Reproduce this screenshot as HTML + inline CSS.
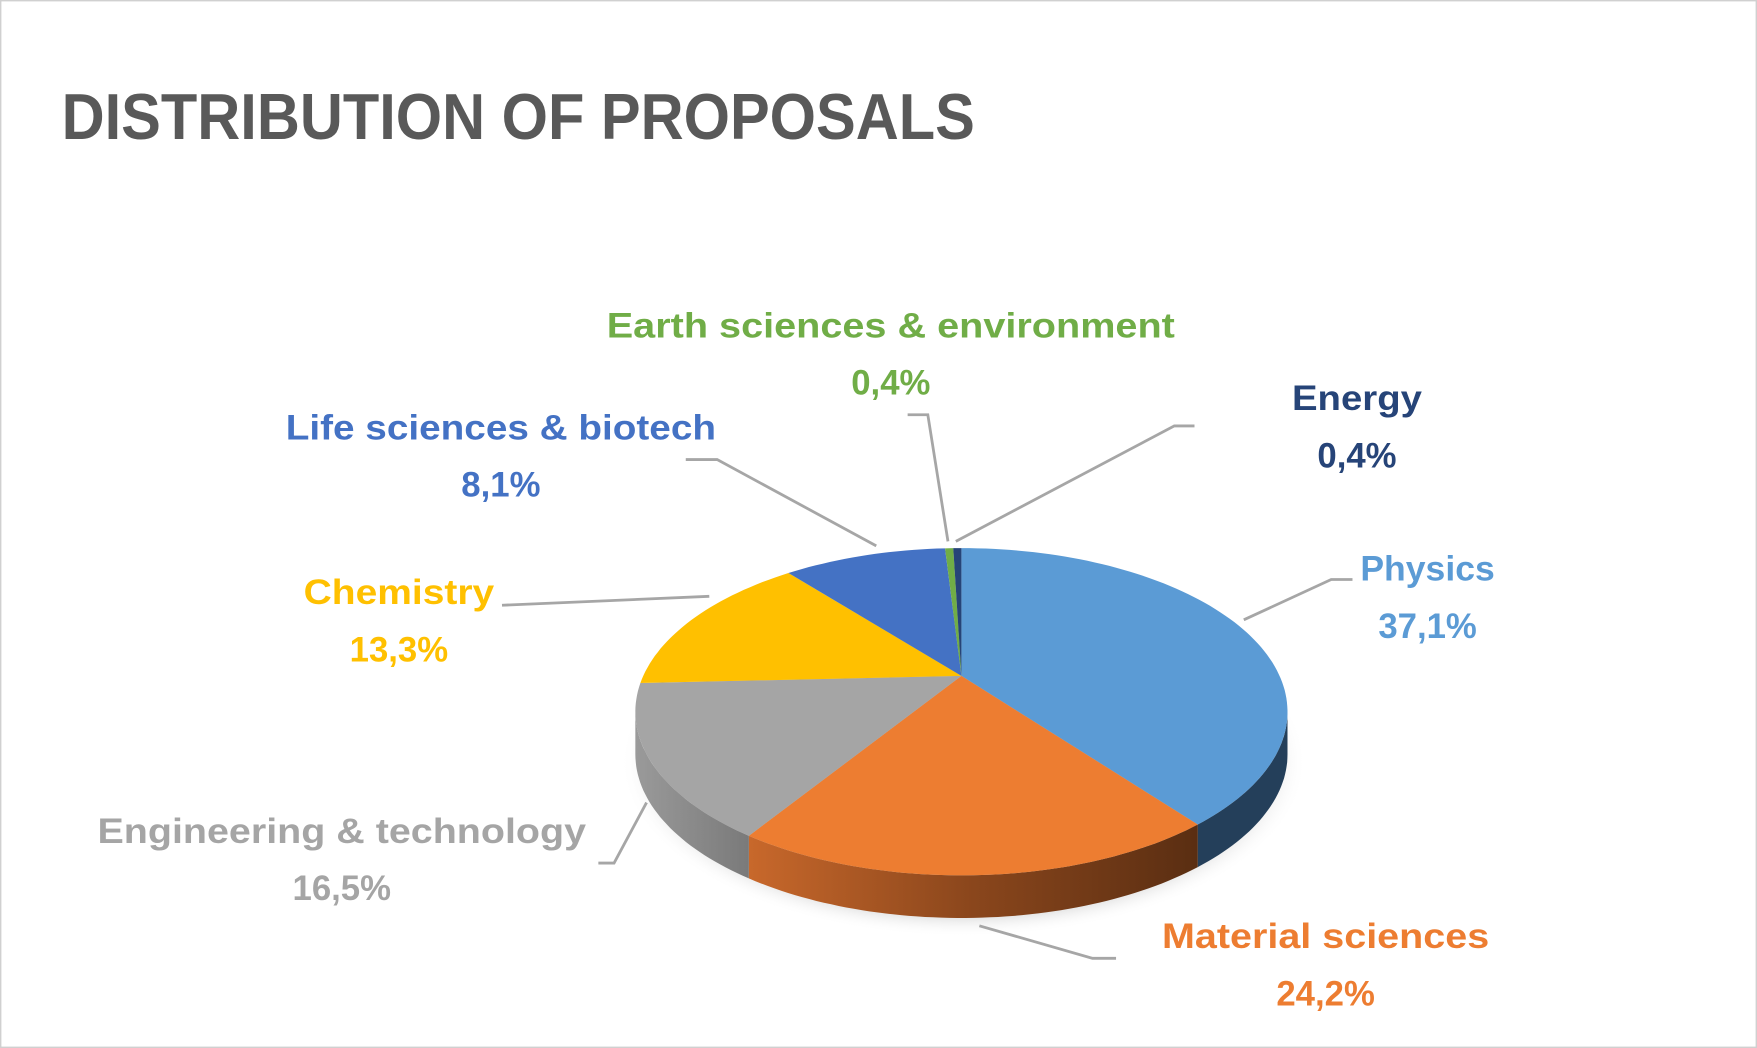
<!DOCTYPE html>
<html><head><meta charset="utf-8"><style>
html,body{margin:0;padding:0;background:#fff;}
svg{display:block;}
text{font-family:"Liberation Sans",sans-serif;font-weight:bold;}
</style></head><body>
<svg id="chart" width="1757" height="1048" viewBox="0 0 1568 935" preserveAspectRatio="none" xmlns="http://www.w3.org/2000/svg">
<defs>
<linearGradient id="gOrange" x1="0" x2="1" y1="0" y2="0">
<stop offset="0" stop-color="#c8682b"/><stop offset="0.5" stop-color="#8a461c"/><stop offset="1" stop-color="#5a2e12"/></linearGradient>
<linearGradient id="gGray" x1="0" x2="1"><stop offset="0" stop-color="#9a9a9a"/><stop offset="1" stop-color="#7a7a7a"/></linearGradient>
<radialGradient id="gShadow"><stop offset="0.85" stop-color="#d0d0d0"/><stop offset="1" stop-color="#fff" stop-opacity="0"/></radialGradient>
</defs>
<rect x="0.5" y="0.5" width="1567" height="934" fill="#fff" stroke="#d0d0d0" stroke-width="1.5"/>
<text x="55" y="124" font-size="58" fill="#595959" textLength="815" lengthAdjust="spacingAndGlyphs">DISTRIBUTION OF PROPOSALS</text>
<ellipse cx="860" cy="680" rx="306" ry="156" fill="url(#gShadow)"/>
<g id="sides"></g>
<g id="tops"></g>
<g id="leaders" stroke="#a6a6a6" stroke-width="2.5" fill="none">
<polyline points="612,410 640,410 782,487"/>
<polyline points="810,370 828,370 846,483"/>
<polyline points="1066,380 1048,380 853,483"/>
<polyline points="448,540 633,532"/>
<polyline points="1207,517 1188,517 1110,553"/>
<polyline points="534,770 548,770 577,716"/>
<polyline points="996,855 975,855 874,826"/>
</g>
<g id="labels"></g>
</svg>
<script>
const categories = ["Physics","Material sciences","Engineering & technology","Chemistry","Life sciences & biotech","Earth sciences & environment","Energy"];
const values = [37.1,24.2,16.5,13.3,8.1,0.4,0.4];
const valueLabels = ["37,1%","24,2%","16,5%","13,3%","8,1%","0,4%","0,4%"];
const colors = ["#5b9bd5","#ed7d31","#a5a5a5","#ffc000","#4472c4","#70ad47","#264478"];
const sideColors = ["#243f5a","url(#gOrange)","url(#gGray)","#b38600","#2f4f88","#4e7a32","#1a2f54"];
const labelPos = [[1274,518,120],[1183,846,292],[305,752,436],[356,539,170],[447,392,384],[795,301,507],[1211,366,116]];
const NS="http://www.w3.org/2000/svg";
const cx=858, cy=635, rx=291, ry=146, depth=38, vx=858, vy=603;
const total=values.reduce((a,b)=>a+b,0);
function pt(t,dy){return [cx+rx*Math.sin(t), cy-ry*Math.cos(t)+(dy||0)];}
const sides=document.getElementById('sides'), tops=document.getElementById('tops'), labels=document.getElementById('labels');
let a=0;
values.forEach((v,i)=>{
  const a0=a, a1=a+v/total*2*Math.PI; a=a1;
  // top wedge
  let d=`M${vx},${vy} `;
  const n=Math.max(2,Math.ceil((a1-a0)*40));
  for(let k=0;k<=n;k++){const p=pt(a0+(a1-a0)*k/n);d+=`L${p[0].toFixed(1)},${p[1].toFixed(1)} `;}
  d+='Z';
  const w=document.createElementNS(NS,'path');
  w.setAttribute('d',d);w.setAttribute('fill',colors[i]);
  
  
  tops.appendChild(w);
  // side
  const s0=Math.max(a0,Math.PI/2), s1=Math.min(a1,3*Math.PI/2);
  if(s1>s0){
    let sd='';const m=Math.ceil((s1-s0)*40);
    for(let k=0;k<=m;k++){const p=pt(s0+(s1-s0)*k/m);sd+=(k?'L':'M')+p[0].toFixed(1)+','+p[1].toFixed(1)+' ';}
    for(let k=m;k>=0;k--){const p=pt(s0+(s1-s0)*k/m,depth);sd+='L'+p[0].toFixed(1)+','+p[1].toFixed(1)+' ';}
    sd+='Z';
    const s=document.createElementNS(NS,'path');
    s.setAttribute('d',sd);s.setAttribute('fill',sideColors[i]);
    
    
    sides.appendChild(s);
  }
  const lp=labelPos[i];
  const col=colors[i];
  const t1=document.createElementNS(NS,'text');
  t1.setAttribute('x',lp[0]);t1.setAttribute('y',lp[1]);t1.setAttribute('text-anchor','middle');
  t1.setAttribute('font-size','31');t1.setAttribute('fill',col);
  t1.setAttribute('textLength',lp[2]);t1.setAttribute('lengthAdjust','spacingAndGlyphs');
  t1.textContent=categories[i];
  
  
  labels.appendChild(t1);
  const t2=document.createElementNS(NS,'text');
  t2.setAttribute('x',lp[0]);t2.setAttribute('y',lp[1]+51);t2.setAttribute('text-anchor','middle');
  t2.setAttribute('font-size','31');t2.setAttribute('fill',col);
  t2.textContent=valueLabels[i];
  
  
  labels.appendChild(t2);
});
</script>
</body></html>
